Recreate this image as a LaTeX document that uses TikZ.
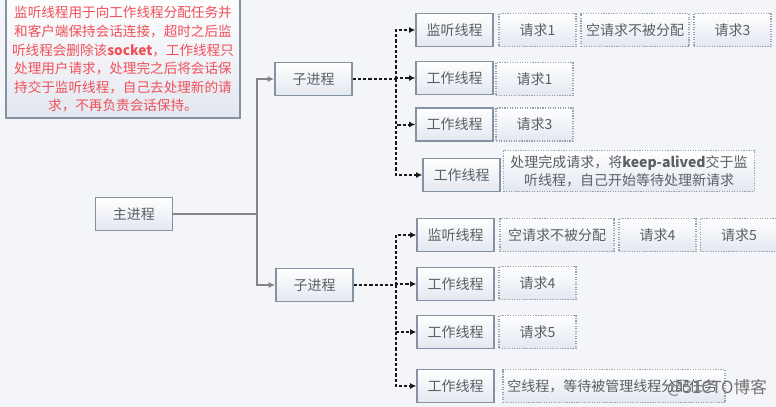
\documentclass[tikz,border=0pt]{standalone}
\usepackage{fontspec}
\setmainfont{Noto Sans CJK SC}
\usetikzlibrary{arrows.meta}
\definecolor{bgc}{HTML}{F4F5F8}
\definecolor{edgec}{HTML}{8592A3}
\definecolor{txtc}{HTML}{5A5F66}
\definecolor{fillb}{HTML}{E3E7EF}
\definecolor{redt}{HTML}{F0505A}
\tikzset{
  x=0.75pt,y=-0.75pt,
  boxbase/.style={rectangle,inner sep=0pt,align=center,text=txtc,font=\fontsize{10.5}{13.5}\selectfont,top color=white,bottom color=fillb},
  solidbox/.style={boxbase,draw=edgec,line width=1.2pt,minimum height=24.75pt},
  topicbox/.style={solidbox,minimum width=57.75pt},
  reqbox/.style={boxbase,draw=edgec!85,line width=0.9pt,densely dotted,minimum height=24.75pt},
  notebox/.style={solidbox,text=redt,top color=white!97!fillb,bottom color=fillb,font=\fontsize{10.2}{13.9}\selectfont,minimum width=175.5pt,minimum height=91.5pt},
  trunk/.style={draw=black!48,line width=1.6pt,-{Latex[length=5pt,width=4.5pt]}},
  trunkline/.style={draw=black!48,line width=1.6pt},
  dasharrow/.style={draw=black!90,line width=1.5pt,dash pattern=on 2.4pt off 1.5pt,-{Latex[length=4.5pt,width=4.5pt]}},
  dashline/.style={draw=black!90,line width=1.6pt,dash pattern=on 2.4pt off 1.5pt},
  wm/.style={text=black!55,font=\fontsize{12.5}{15}\selectfont,inner sep=0pt}
}
\begin{document}
\begin{tikzpicture}
\useasboundingbox[fill=bgc] (0,0) rectangle (776,407);
\node[notebox] (note) at (123,57) {\rule{0pt}{12pt}监听线程用于向工作线程分配任务并\\和客户端保持会话连接，超时之后监\\听线程会删除该\textbf{socket}，工作线程只\\处理用户请求，处理完之后将会话保\\持交于监听线程，自己去处理新的请\\求，不再负责会话保持。};
\node[topicbox] (main) at (134,214) {主进程};
\node[topicbox] (sub1) at (313.5,79) {子进程};
\node[topicbox] (sub2) at (314.5,285) {子进程};
% upper threads
\node[topicbox] (t1) at (454.5,30) {监听线程};
\node[topicbox] (t2) at (454.5,78) {工作线程};
\node[topicbox] (t3) at (454.5,124.5) {工作线程};
\node[topicbox] (t4) at (461.5,175) {工作线程};
\node[reqbox,minimum width=57.75pt] (r1) at (537.5,30) {请求1};
\node[reqbox,minimum width=81pt] (r2) at (635,30) {空请求不被分配};
\node[reqbox,minimum width=57.75pt] (r3) at (732.5,30) {请求3};
\node[reqbox,minimum width=57.75pt] (r4) at (534.5,79) {请求1};
\node[reqbox,minimum width=57.75pt] (r5) at (534.5,124.5) {请求3};
\node[reqbox,minimum width=188pt,minimum height=30.75pt] (r6) at (629,171) {处理完成请求，将\textbf{keep-alived}交于监\\听线程，自己开始等待处理新请求};
% lower threads
\node[topicbox] (t5) at (455.5,235) {监听线程};
\node[topicbox] (t6) at (455.5,284) {工作线程};
\node[topicbox] (t7) at (455.5,332) {工作线程};
\node[topicbox] (t8) at (455.5,386) {工作线程};
\node[reqbox,minimum width=85.5pt] (r7) at (557,235) {空请求不被分配};
\node[reqbox,minimum width=57.75pt] (r8) at (657.5,235) {请求4};
\node[reqbox,minimum width=57.75pt] (r9) at (739,235) {请求5};
\node[reqbox,minimum width=57.75pt] (r10) at (537.5,283) {请求4};
\node[reqbox,minimum width=57.75pt] (r11) at (537.5,332) {请求5};
\node[reqbox,minimum width=166.5pt,text width=160pt,align=left] (r12) at (614,386) {空线程，等待被管理线程分配任务};
% junctions
\coordinate (j0) at (257,214);
\coordinate (j1) at (396,79);
\coordinate (j2) at (396,285);
% connectors
\draw[trunkline] (main.east) -- (j0);
\draw[trunk] (j0) |- (sub1.west);
\draw[trunk] (j0) |- (sub2.west);
\draw[dashline] (sub1.east) -- (j1);
\draw[dasharrow] (j1) |- (t1.west);
\draw[dasharrow] (j1) |- (t2.west);
\draw[dasharrow] (j1) |- (t3.west);
\draw[dasharrow] (j1) |- (t4.west);
\draw[dashline] (sub2.east) -- (j2);
\draw[dasharrow] (j2) |- (t5.west);
\draw[dasharrow] (j2) |- (t6.west);
\draw[dasharrow] (j2) |- (t7.west);
\draw[dasharrow] (j2) |- (t8.west);
\node[wm] (mark) at (717,388) {@51CTO博客};
\end{tikzpicture}
\end{document}
